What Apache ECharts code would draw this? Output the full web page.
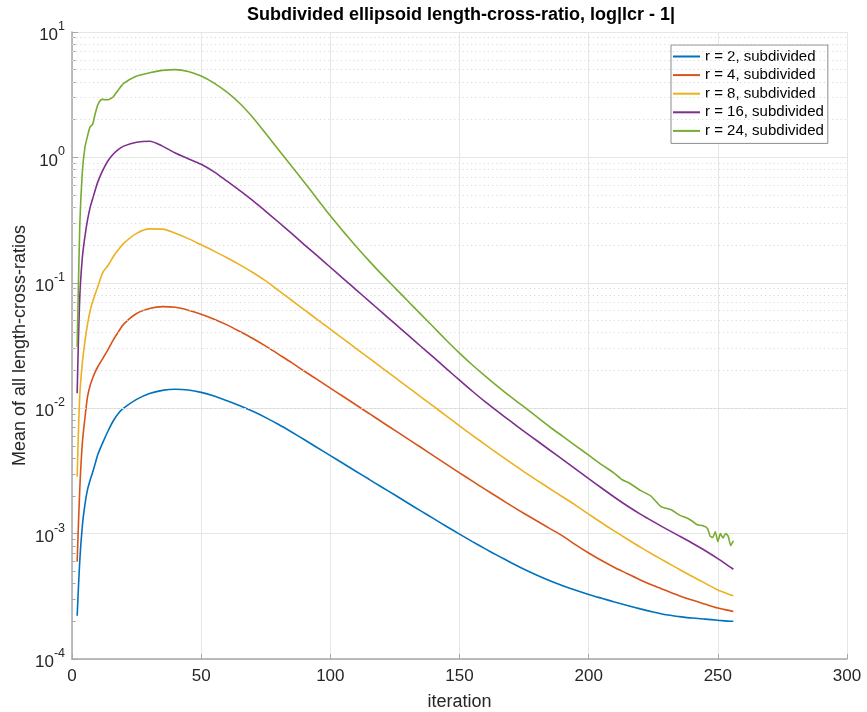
<!DOCTYPE html>
<html>
<head>
<meta charset="utf-8">
<script src="https://cdn.jsdelivr.net/npm/echarts@6/dist/echarts.min.js"></script>
<style>
html,body{margin:0;padding:0;background:#fff;}
#chart{width:867px;height:712px;}
</style>
</head>
<body>
<div id="chart"></div>
<script>
// ---- data ----
var iterations = [2,3,4,5,6,7,8,9,10,12,14,16,18,20,25,30,35,40,45,50,55,60,65,70,75,80,85,90,95,100,105,110,115,120,125,130,135,140,145,150,155,160,165,170,175,180,185,190,195,200,205,210,215,220,225,230,235,240,245,250,255,256];

var r2 = [2.21e-4,6.03e-4,1.15e-3,1.70e-3,2.24e-3,2.66e-3,3.09e-3,3.63e-3,4.27e-3,5.37e-3,6.61e-3,7.94e-3,9.12e-3,
  1.000e-2,1.175e-2,1.309e-2,1.387e-2,1.416e-2,1.396e-2,1.337e-2,1.250e-2,1.148e-2,1.047e-2,9.44e-3,8.41e-3,7.41e-3,6.46e-3,5.60e-3,4.84e-3,4.19e-3,3.62e-3,3.13e-3,2.71e-3,2.34e-3,2.03e-3,1.754e-3,1.517e-3,1.315e-3,1.140e-3,9.91e-4,8.63e-4,7.55e-4,6.64e-4,5.86e-4,5.20e-4,4.66e-4,4.21e-4,3.84e-4,3.53e-4,3.27e-4,3.05e-4,2.85e-4,2.67e-4,2.51e-4,2.37e-4,2.25e-4,2.18e-4,2.12e-4,2.08e-4,2.04e-4,2.00e-4,2.00e-4];

var r4 = [5.98e-4,2.24e-3,5.25e-3,8.32e-3,1.23e-2,1.51e-2,1.74e-2,1.95e-2,2.14e-2,2.51e-2,2.95e-2,3.51e-2,4.07e-2,
  4.68e-2,5.69e-2,6.24e-2,6.46e-2,6.38e-2,6.05e-2,5.62e-2,5.13e-2,4.62e-2,4.09e-2,3.60e-2,3.13e-2,2.69e-2,2.31e-2,1.97e-2,1.69e-2,1.445e-2,1.24e-2,1.06e-2,9.08e-3,7.76e-3,6.65e-3,5.69e-3,4.88e-3,4.17e-3,3.57e-3,3.05e-3,2.62e-3,2.25e-3,1.94e-3,1.67e-3,1.445e-3,1.26e-3,1.096e-3,9.55e-4,8.13e-4,7.00e-4,6.10e-4,5.37e-4,4.79e-4,4.27e-4,3.85e-4,3.51e-4,3.20e-4,2.95e-4,2.74e-4,2.55e-4,2.42e-4,2.39e-4];

var r8 = [2.84e-3,1.26e-2,2.29e-2,3.39e-2,4.68e-2,5.96e-2,7.08e-2,8.13e-2,9.33e-2,0.1216,0.138,0.162,0.184,
  0.2065,0.248,0.269,0.268,0.248,0.225,0.201,0.179,0.1585,0.139,0.1208,0.1035,8.67e-2,7.26e-2,6.08e-2,5.09e-2,4.27e-2,3.57e-2,2.99e-2,2.51e-2,2.10e-2,1.758e-2,1.472e-2,1.233e-2,1.033e-2,8.65e-3,7.24e-3,6.08e-3,5.12e-3,4.32e-3,3.66e-3,3.11e-3,2.66e-3,2.28e-3,1.96e-3,1.68e-3,1.43e-3,1.22e-3,1.047e-3,9.02e-4,7.80e-4,6.79e-4,5.94e-4,5.19e-4,4.57e-4,4.03e-4,3.55e-4,3.24e-4,3.19e-4];

var r16 = [1.315e-2,7.59e-2,0.1585,0.234,0.316,0.398,0.468,0.55,0.638,0.794,0.944,1.064,1.161,
  1.23,1.32,1.345,1.23,1.084,0.977,0.881,0.767,0.646,0.543,0.452,0.3715,0.304,0.248,0.201,0.1637,0.133,0.1081,8.79e-2,7.14e-2,5.81e-2,4.72e-2,3.84e-2,3.12e-2,2.54e-2,2.06e-2,1.675e-2,1.365e-2,1.122e-2,9.33e-3,7.80e-3,6.53e-3,5.50e-3,4.62e-3,3.89e-3,3.27e-3,2.74e-3,2.31e-3,1.95e-3,1.66e-3,1.43e-3,1.245e-3,1.091e-3,9.59e-4,8.41e-4,7.33e-4,6.31e-4,5.37e-4,5.20e-4];

var iterations24 = [2,3,4,5,6,7,8,9,10,11,12,13,14,15,16,18,20,25,28,30,35,40,45,50,55,60,65,70,75,80,85,90,95,100,105,110,115,120,125,130,135,140,145,150,155,160,165,170,175,180,185,190,195,200,205,210,213,216,220,224,228,232,235,238,240,242,244,246,247,248,249,250,251,252,253,254,255,256];
var r24 = [3.08e-2,0.282,0.759,1.20,1.479,1.75,1.84,2.24,2.63,2.85,2.90,2.88,2.88,2.95,3.05,3.47,3.89,4.45,4.62,4.73,4.94,5.01,4.84,4.45,3.91,3.31,2.69,2.08,1.549,1.148,0.851,0.631,0.4645,0.342,0.257,0.195,0.1496,0.1161,9.12e-2,7.16e-2,5.62e-2,4.42e-2,3.47e-2,2.75e-2,2.21e-2,1.80e-2,1.479e-2,1.225e-2,1.023e-2,8.51e-3,7.08e-3,5.96e-3,5.01e-3,4.22e-3,3.55e-3,3.02e-3,2.69e-3,2.51e-3,2.21e-3,2.0e-3,1.64e-3,1.55e-3,1.41e-3,1.33e-3,1.26e-3,1.175e-3,1.16e-3,1.10e-3,9.55e-4,9.33e-4,1.035e-3,8.63e-4,1.0e-3,9.23e-4,1.0e-3,9.55e-4,8.02e-4,8.77e-4];

var seriesNames = ['r = 2, subdivided','r = 4, subdivided','r = 8, subdivided','r = 16, subdivided','r = 24, subdivided'];
var seriesColors = ['#0072BD','#D95319','#EDB120','#7E2F8E','#77AC30'];
var xTicks = [0,50,100,150,200,250,300];
var yMajorTicks = [1e-4,1e-3,1e-2,1e-1,1,10];
var yMinorTicks = [];
[1e-4,1e-3,1e-2,1e-1,1].forEach(function(d){ [2,3,4,5,6,7,8,9].forEach(function(m){ yMinorTicks.push(+(d*m).toPrecision(3)); }); });

function zip(xs, ys){ return xs.map(function(x,i){ return [x, ys[i]]; }); }
var xsList = [iterations, iterations, iterations, iterations, iterations24];
var ysList = [r2, r4, r8, r16, r24];

var FONT = '"Liberation Sans", Arial, Helvetica, sans-serif';
var chart = echarts.init(document.getElementById('chart'), null, {renderer:'canvas'});

var series = ysList.map(function(ys, i){
  return {
    name: seriesNames[i],
    type: 'line',
    data: zip(xsList[i], ys),
    yAxisIndex: 0,
    symbol: 'none',
    smooth: i === 4 ? 0.2 : 0.3,
    lineStyle: {color: seriesColors[i], width: 1.6},
    itemStyle: {color: seriesColors[i]},
    animation: false,
    z: 3 + i
  };
});
// minor (dotted) horizontal grid lines at 2..9 x each decade
series.unshift({
  name: 'minor-grid',
  type: 'line',
  data: [],
  yAxisIndex: 0,
  silent: true,
  animation: false,
  z: 1,
  markLine: {
    silent: true,
    symbol: ['none','none'],
    label: {show: false},
    animation: false,
    lineStyle: {color: '#d9d9d9', width: 1, type: [1.2, 3]},
    data: yMinorTicks.map(function(v){ return {yAxis: v}; })
  }
});

var option = {
  backgroundColor: '#fff',
  animation: false,
  title: {
    text: 'Subdivided ellipsoid length-cross-ratio, log|lcr - 1|',
    left: 242, top: 1,
    textStyle: {fontFamily: FONT, fontSize: 18, fontWeight: 'bold', color: '#000'}
  },
  legend: {
    orient: 'vertical',
    left: 671, top: 45,
    padding: [4, 4, 5, 2],
    itemGap: 3.6,
    itemWidth: 27, itemHeight: 2,
    icon: 'rect',
    backgroundColor: '#fff',
    borderColor: '#8c8c8c', borderWidth: 1,
    textStyle: {fontFamily: FONT, fontSize: 15, color: '#000', lineHeight: 15},
    data: seriesNames
  },
  grid: {left: 72, right: 20, top: 32, bottom: 53, containLabel: false, outerBoundsMode: 'none'},
  xAxis: {
    type: 'value', min: 0, max: 300, interval: 50,
    name: 'iteration', nameLocation: 'middle', nameGap: 34,
    nameTextStyle: {fontFamily: FONT, fontSize: 18, color: '#262626'},
    axisLine: {show: true, lineStyle: {color: '#a8a8a8', width: 1.5}},
    axisTick: {show: true, inside: true, length: 5, lineStyle: {color: '#a8a8a8'}},
    axisLabel: {fontFamily: FONT, fontSize: 17, color: '#262626', margin: 9},
    splitLine: {show: true, lineStyle: {color: '#e6e6e6', width: 1}}
  },
  yAxis: [{
    type: 'log', logBase: 10, min: 1e-4, max: 10,
    name: 'Mean of all length-cross-ratios', nameLocation: 'middle', nameGap: 43,
    nameMoveOverlap: false,
    nameTextStyle: {fontFamily: FONT, fontSize: 18, color: '#262626'},
    axisLine: {show: true, lineStyle: {color: '#a8a8a8', width: 1.5}},
    axisTick: {show: true, inside: true, length: 6, customValues: yMajorTicks, lineStyle: {color: '#a8a8a8'}},
    axisLabel: {
      customValues: yMajorTicks, margin: 7,
      formatter: function(v){ var e = Math.round(Math.log10(v)); return '{b|10}{e|' + e + '}'; },
      rich: {
        b: {fontFamily: FONT, fontSize: 17, color: '#262626', verticalAlign: 'bottom', lineHeight: 24},
        e: {fontFamily: FONT, fontSize: 12.5, color: '#262626', verticalAlign: 'top', lineHeight: 24}
      }
    },
    splitLine: {show: true, lineStyle: {color: '#e6e6e6', width: 1}}
  }, {
    type: 'log', logBase: 10, min: 1e-4, max: 10, position: 'left',
    axisLine: {show: false},
    axisTick: {show: true, inside: true, length: 3.5, customValues: yMinorTicks, lineStyle: {color: '#a8a8a8'}},
    axisLabel: {show: false},
    splitLine: {show: false}
  }],
  series: series
};
chart.setOption(option);
</script>
</body>
</html>
